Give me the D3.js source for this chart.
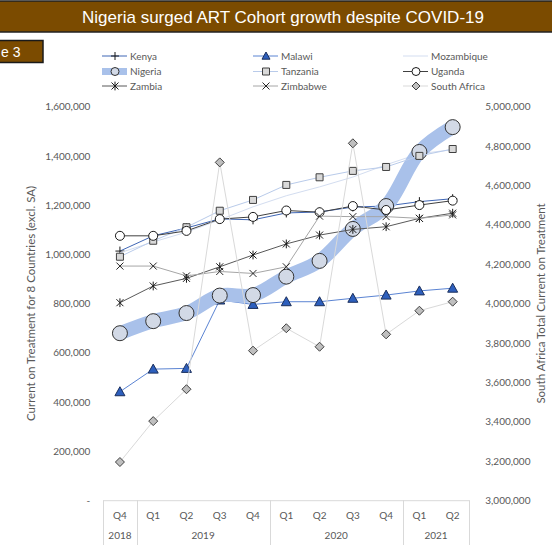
<!DOCTYPE html>
<html>
<head>
<meta charset="utf-8">
<script src="https://cdn.jsdelivr.net/npm/d3@7"></script>
<style>
  body { margin: 0; background: #fff; }
  svg { display: block; }
</style>
</head>
<body>
<script>
// quarters on the x axis, grouped by year
const quarters = ['Q4', 'Q1', 'Q2', 'Q3', 'Q4', 'Q1', 'Q2', 'Q3', 'Q4', 'Q1', 'Q2'];
const years = ['2018', '2019', '2020', '2021'];
const yearSpans = [1, 4, 4, 2];

// current on treatment, left axis (8 countries)
const kenya = [1013000, 1075000, 1107000, 1144000, 1140000, 1168000, 1172000, 1192000, 1196000, 1214000, 1226000];
const malawi = [441000, 533000, 536000, 814000, 796000, 807000, 807000, 821000, 834000, 851000, 862000];
const mozambique = [1006000, 1050000, 1090000, 1140000, 1193000, 1238000, 1274000, 1314000, 1364000, 1409000, 1425000];
const nigeria = [679000, 728000, 761000, 832000, 834000, 909000, 973000, 1103000, 1196000, 1416000, 1517000];
const tanzania = [990000, 1055000, 1110000, 1177000, 1221000, 1282000, 1313000, 1339000, 1355000, 1400000, 1428000];
const uganda = [1075000, 1075000, 1095000, 1143000, 1152000, 1178000, 1171000, 1196000, 1180000, 1200000, 1218000];
const zambia = [803000, 871000, 902000, 949000, 997000, 1042000, 1078000, 1101000, 1112000, 1146000, 1167000];
const zimbabwe = [952000, 952000, 912000, 930000, 922000, 949000, 1155000, 1153000, 1153000, 1146000, 1160000];
// right axis
const southAfrica = [3194000, 3402000, 3564000, 4717000, 3760000, 3874000, 3780000, 4814000, 3843000, 3963000, 4009000];

const leftTicks = [0, 200000, 400000, 600000, 800000, 1000000, 1200000, 1400000, 1600000];
const rightTicks = [3000000, 3200000, 3400000, 3600000, 3800000, 4000000, 4200000, 4400000, 4600000, 4800000, 5000000];

const W = 552, H = 545;
const plot = { left: 103.3, right: 469.3, top: 106.7, bottom: 500.2 };
const brown = '#7b4b00';
const grey = '#595959';
const font = 'Lato, "Open Sans", sans-serif';

// marker shapes, centred on 0,0
const shapes = {
  plus: (r) => `M${-r},0H${r}M0,${-r}V${r}`,
  cross: (r) => `M${-r},${-r}L${r},${r}M${-r},${r}L${r},${-r}`,
  star: (r) => `M${-r},${-r}L${r},${r}M${-r},${r}L${r},${-r}M0,${-r * 1.25}V${r * 1.25}`,
  circle: (r) => `M${r},0A${r},${r} 0 1,1 ${-r},0A${r},${r} 0 1,1 ${r},0Z`,
  square: (r) => `M${-r},${-r}h${2 * r}v${2 * r}h${-2 * r}Z`,
  triangle: (r) => `M0,${-r}L${r},${r * 0.8}L${-r},${r * 0.8}Z`,
  diamond: (r) => `M0,${-r}L${r},0L0,${r}L${-r},0Z`,
  none: () => ''
};

const series = [
  { name: 'Kenya', values: kenya, axis: 'L', line: '#3f66b5', width: 1, shape: 'plus', r: 4.5, fill: 'none', stroke: '#1a1a1a' },
  { name: 'Malawi', values: malawi, axis: 'L', line: '#5b84d3', width: 1, shape: 'triangle', r: 5, fill: '#2d5fbd', stroke: '#1b2f5c' },
  { name: 'Mozambique', values: mozambique, axis: 'L', line: '#d3ddf0', width: 1, shape: 'none', r: 0, fill: 'none', stroke: 'none' },
  { name: 'Nigeria', values: nigeria, axis: 'L', line: '#a9c1ea', width: 14, shape: 'circle', r: 7.5, fill: '#d2d9e6', stroke: '#333', smooth: true },
  { name: 'Tanzania', values: tanzania, axis: 'L', line: '#b9cbea', width: 1, shape: 'square', r: 3.5, fill: '#d9d9d9', stroke: '#404040' },
  { name: 'Uganda', values: uganda, axis: 'L', line: '#404040', width: 1, shape: 'circle', r: 4.5, fill: '#fff', stroke: '#1a1a1a' },
  { name: 'Zambia', values: zambia, axis: 'L', line: '#595959', width: 1, shape: 'star', r: 3.5, fill: 'none', stroke: '#1a1a1a' },
  { name: 'Zimbabwe', values: zimbabwe, axis: 'L', line: '#a6a6a6', width: 1, shape: 'cross', r: 3.5, fill: 'none', stroke: '#262626' },
  { name: 'South Africa', values: southAfrica, axis: 'R', line: '#d9d9d9', width: 1, shape: 'diamond', r: 4.5, fill: '#bfbfbf', stroke: '#404040' }
];

const svg = d3.select('body').append('svg').attr('width', W).attr('height', H)
  .style('font-family', font);

// title bar
svg.append('rect').attr('x', -2).attr('y', 1).attr('width', W + 4).attr('height', 31)
  .attr('fill', brown).attr('stroke', '#222').attr('stroke-width', 1.5);
svg.append('text').attr('x', 283).attr('y', 22.5).attr('text-anchor', 'middle')
  .attr('fill', '#fff').style('font-family', '"Liberation Sans", Arial, sans-serif')
  .style('font-size', '17px').text('Nigeria surged ART Cohort growth despite COVID-19');

// cut-off figure tag
svg.append('rect').attr('x', -2).attr('y', 40.5).attr('width', 45).attr('height', 22)
  .attr('fill', brown).attr('stroke', '#1a1a1a').attr('stroke-width', 1.5);
svg.append('text').attr('x', 1).attr('y', 57).attr('fill', '#fff')
  .style('font-family', '"Liberation Sans", Arial, sans-serif').style('font-size', '14px').text('e 3');

const x = d3.scaleBand().domain(d3.range(quarters.length)).range([plot.left, plot.right]);
const yL = d3.scaleLinear().domain([0, 1600000]).range([plot.bottom, plot.top]);
const yR = d3.scaleLinear().domain([3000000, 5000000]).range([plot.bottom, plot.top]);
const cx = (i) => x(i) + x.bandwidth() / 2;
const fmt = d3.format(',');

// value axes: labels only
const leftAxis = svg.append('g').attr('transform', `translate(${plot.left},0)`)
  .call(d3.axisLeft(yL).tickValues(leftTicks).tickSize(0).tickPadding(13)
    .tickFormat((d) => (d === 0 ? '-' : fmt(d))));
const rightAxis = svg.append('g').attr('transform', `translate(${plot.right},0)`)
  .call(d3.axisRight(yR).tickValues(rightTicks).tickSize(0).tickPadding(16).tickFormat(fmt));
[leftAxis, rightAxis].forEach((g) => {
  g.select('.domain').remove();
  g.selectAll('text').attr('fill', grey).style('font-family', font).style('font-size', '10px');
});

svg.append('text').attr('transform', `translate(35,${(plot.top + plot.bottom) / 2}) rotate(-90)`)
  .attr('text-anchor', 'middle').attr('fill', grey).style('font-size', '11.5px')
  .text('Current on Treatment for 8 Countries (excl. SA)');
svg.append('text').attr('transform', `translate(545,${(plot.top + plot.bottom) / 2}) rotate(-90)`)
  .attr('text-anchor', 'middle').attr('fill', grey).style('font-size', '11.5px')
  .text('South Africa Total Current on Treatment');

// multi-level category axis
const cat = svg.append('g').attr('stroke', '#d9d9d9').attr('stroke-width', 1);
cat.append('line').attr('x1', plot.left).attr('x2', plot.right)
  .attr('y1', plot.bottom + 0.5).attr('y2', plot.bottom + 0.5);
const starts = yearSpans.map((s, k) => d3.sum(yearSpans.slice(0, k)));
const bounds = starts.concat([quarters.length]);
cat.selectAll('line.sep').data(bounds).join('line').attr('class', 'sep')
  .attr('x1', (i) => Math.round(x(i) ?? plot.right) + 0.5)
  .attr('x2', (i) => Math.round(x(i) ?? plot.right) + 0.5)
  .attr('y1', plot.bottom).attr('y2', H);

svg.append('g').selectAll('text').data(quarters).join('text')
  .attr('x', (d, i) => cx(i)).attr('y', 519).attr('text-anchor', 'middle')
  .attr('fill', grey).style('font-size', '10px').text((d) => d);
svg.append('g').selectAll('text').data(years).join('text')
  .attr('x', (d, k) => (x(starts[k]) + (x(starts[k] + yearSpans[k] - 1) + x.bandwidth())) / 2)
  .attr('y', 539).attr('text-anchor', 'middle')
  .attr('fill', grey).style('font-size', '10px').text((d) => d);

// series, drawn in order so later markers sit on top
series.forEach((s) => {
  const y = s.axis === 'L' ? yL : yR;
  const line = d3.line().x((d, i) => cx(i)).y((d) => y(d))
    .curve(s.smooth ? d3.curveCatmullRom.alpha(0.5) : d3.curveLinear);
  const g = svg.append('g');
  g.append('path').attr('d', line(s.values)).attr('fill', 'none')
    .attr('stroke', s.line).attr('stroke-width', s.width).attr('stroke-linejoin', 'round');
  if (s.shape === 'none') return;
  g.selectAll('path.m').data(s.values).join('path').attr('class', 'm')
    .attr('transform', (d, i) => `translate(${cx(i)},${y(d)})`)
    .attr('d', shapes[s.shape](s.r)).attr('fill', s.fill)
    .attr('stroke', s.stroke).attr('stroke-width', 1);
});

// legend, three columns
const legendCols = [102, 253, 403];
const legendRows = [56, 71.5, 86];
const leg = svg.append('g').selectAll('g').data(series).join('g')
  .attr('transform', (d, i) => `translate(${legendCols[i % 3]},${legendRows[Math.floor(i / 3)]})`);
leg.append('line').attr('x1', 0).attr('x2', 25).attr('stroke', (d) => d.line)
  .attr('stroke-width', (d) => (d.width > 1 ? 7 : 1));
leg.append('path').attr('transform', 'translate(13,0)')
  .attr('d', (d) => shapes[d.shape](Math.min(d.r, 4)))
  .attr('fill', (d) => d.fill).attr('stroke', (d) => d.stroke);
leg.append('text').attr('x', 28).attr('y', 3.5).attr('fill', grey)
  .style('font-size', '10px').text((d) => d.name);
</script>
</body>
</html>
